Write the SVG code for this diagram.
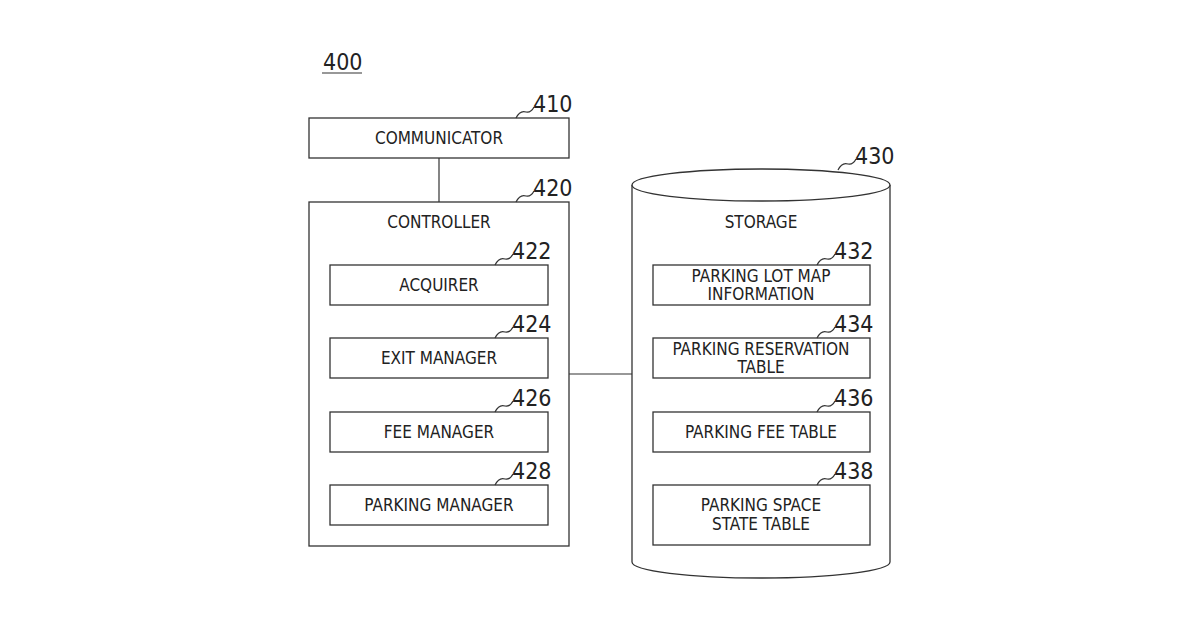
<svg xmlns="http://www.w3.org/2000/svg" width="1200" height="630" viewBox="0 0 1200 630">
<style>
rect,path.b{fill:#fff;stroke:#333;stroke-width:1.3}
.t{font-family:"Liberation Sans Narrow","DejaVu Sans Condensed",sans-serif;font-size:17px;fill:#222;text-anchor:middle}
.n{font-family:"Liberation Sans Narrow","DejaVu Sans Condensed",sans-serif;font-size:23px;fill:#222}
.l{fill:none;stroke:#333;stroke-width:1.2}
</style>
<rect width="1200" height="630" fill="#fff" style="stroke:none"/>
<text class="n" x="323" y="70">400</text>
<line class="l" x1="322" y1="73" x2="362" y2="73"/>
<g id="connectors">
<line class="l" x1="439" y1="158" x2="439" y2="202"/>
<line class="l" x1="569" y1="374" x2="632" y2="374"/>
</g>
<g id="n410"><rect x="309" y="118" width="260" height="40"/><text class="t" x="439" y="144">COMMUNICATOR</text>
<path class="l" d="M516,118 q4,-8 10,-6 q5,1 8,-5"/><text class="n" x="533" y="112">410</text></g>
<g id="n420"><rect x="309" y="202" width="260" height="344"/><text class="t" x="439" y="228">CONTROLLER</text>
<path class="l" d="M516,202 q4,-8 10,-6 q5,1 8,-5"/><text class="n" x="533" y="196">420</text></g>
<g id="n422"><rect x="330" y="265" width="218" height="40"/><text class="t" x="439" y="291">ACQUIRER</text>
<path class="l" d="M495,265 q4,-8 10,-6 q5,1 8,-5"/><text class="n" x="512" y="259">422</text></g>
<g id="n424"><rect x="330" y="338" width="218" height="40"/><text class="t" x="439" y="364">EXIT MANAGER</text>
<path class="l" d="M495,338 q4,-8 10,-6 q5,1 8,-5"/><text class="n" x="512" y="332">424</text></g>
<g id="n426"><rect x="330" y="412" width="218" height="40"/><text class="t" x="439" y="438">FEE MANAGER</text>
<path class="l" d="M495,412 q4,-8 10,-6 q5,1 8,-5"/><text class="n" x="512" y="406">426</text></g>
<g id="n428"><rect x="330" y="485" width="218" height="40"/><text class="t" x="439" y="511">PARKING MANAGER</text>
<path class="l" d="M495,485 q4,-8 10,-6 q5,1 8,-5"/><text class="n" x="512" y="479">428</text></g>
<g id="n430"><path class="b" d="M632,185 L632,562 A129,16 0 0 0 890,562 L890,185"/>
<ellipse cx="761" cy="185" rx="129" ry="16" fill="#fff" stroke="#333" stroke-width="1.3"/>
<text class="t" x="761" y="228">STORAGE</text>
<path class="l" d="M838,170 q4,-8 10,-6 q5,1 8,-5"/><text class="n" x="855" y="164">430</text></g>
<g id="n432"><rect x="653" y="265" width="217" height="40"/><text class="t" x="761" y="282">PARKING LOT MAP</text><text class="t" x="761" y="300">INFORMATION</text>
<path class="l" d="M817,265 q4,-8 10,-6 q5,1 8,-5"/><text class="n" x="834" y="259">432</text></g>
<g id="n434"><rect x="653" y="338" width="217" height="40"/><text class="t" x="761" y="355">PARKING RESERVATION</text><text class="t" x="761" y="373">TABLE</text>
<path class="l" d="M817,338 q4,-8 10,-6 q5,1 8,-5"/><text class="n" x="834" y="332">434</text></g>
<g id="n436"><rect x="653" y="412" width="217" height="40"/><text class="t" x="761" y="438">PARKING FEE TABLE</text>
<path class="l" d="M817,412 q4,-8 10,-6 q5,1 8,-5"/><text class="n" x="834" y="406">436</text></g>
<g id="n438"><rect x="653" y="485" width="217" height="60"/><text class="t" x="761" y="511">PARKING SPACE</text><text class="t" x="761" y="530">STATE TABLE</text>
<path class="l" d="M817,485 q4,-8 10,-6 q5,1 8,-5"/><text class="n" x="834" y="479">438</text></g>
</svg>
